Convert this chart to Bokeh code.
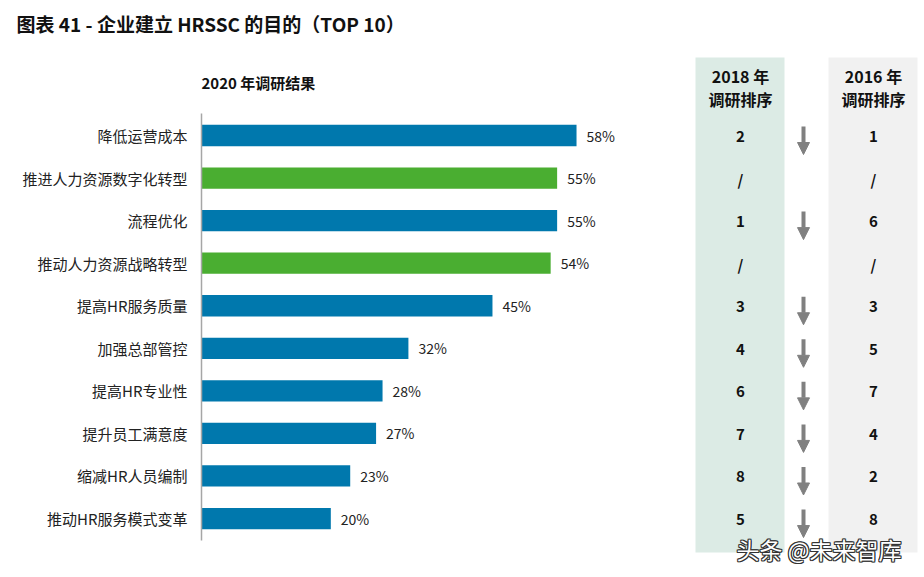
from bokeh.plotting import figure
from bokeh.models import Range1d, ColumnDataSource, Arrow, NormalHead
from bokeh.core.properties import value
from bokeh.embed import file_html
from bokeh.resources import INLINE

# data
categories = ["降低运营成本", "推进人力资源数字化转型", "流程优化", "推动人力资源战略转型",
              "提高HR服务质量", "加强总部管控", "提高HR专业性", "提升员工满意度",
              "缩减HR人员编制", "推动HR服务模式变革"]
pct_2020 = [58, 55, 55, 54, 45, 32, 28, 27, 23, 20]
is_new = [False, True, False, True, False, False, False, False, False, False]
rank_2018 = ["2", "/", "1", "/", "3", "4", "6", "7", "8", "5"]
rank_2016 = ["1", "/", "6", "/", "3", "5", "7", "4", "2", "8"]

FONT = value("Noto Sans CJK SC")
BLUE = "#0078ad"
GREEN = "#4aae31"

W, H = 920, 570
PX = 6.466      # pixels per percent
X0 = 201        # px of the bar baseline
ROW0 = 135      # px of first row centre
DY = 42.56      # pixels per row


def dx(px):
    return (px - X0) / PX


def dy(py):
    return (py - ROW0) / DY


p = figure(width=W, height=H, output_backend="svg", toolbar_location=None,
           x_range=Range1d(dx(0), dx(W)), y_range=Range1d(dy(H), dy(0)),
           x_axis_location=None, y_axis_location=None, min_border=0,
           outline_line_color=None)
p.grid.visible = False

rows = list(range(len(categories)))
src = ColumnDataSource(dict(
    y=rows, cat=categories, pct=pct_2020,
    lab=[f"{v}%" for v in pct_2020],
    color=[GREEN if n else BLUE for n in is_new],
    r18=rank_2018, r16=rank_2016,
))

# rank column backgrounds
p.quad(left=[dx(695), dx(828)], right=[dx(784), dx(917)],
       top=[dy(57), dy(57)], bottom=[dy(552), dy(552)],
       fill_color=["#dcebe5", "#f1f1f1"], line_color=None)

# bars
p.hbar(y="y", left=0, right="pct", height=0.5, fill_color="color",
       line_color=None, source=src)
p.segment(x0=[0], x1=[0], y0=[dy(113)], y1=[dy(540)], line_color="#a6a6a6",
          line_width=1.5)

p.text(x="pct", y="y", text="lab", x_offset=10, text_baseline="middle",
       text_font=FONT, text_font_size="14px", text_color="#222222", source=src)
p.text(x=dx(187), y="y", text="cat", text_align="right", text_baseline="middle",
       text_font=FONT, text_font_size="15px", text_color="#222222", source=src)

# titles
p.text(x=[dx(16)], y=[dy(23)], text=["图表 41 - 企业建立 HRSSC 的目的（TOP 10）"],
       text_baseline="middle", text_font=FONT, text_font_size="19px",
       text_font_style="bold", text_color="#111111")
p.text(x=[dx(201)], y=[dy(82)], text=["2020 年调研结果"], text_baseline="middle",
       text_font=FONT, text_font_size="15px", text_font_style="bold",
       text_color="#111111")
for cx, yr in [(740, "2018 年"), (873, "2016 年")]:
    p.text(x=[dx(cx)] * 2, y=[dy(75), dy(98)], text=[yr, "调研排序"],
           text_align="center", text_baseline="middle", text_font=FONT,
           text_font_size="16px", text_font_style="bold", text_color="#111111")

# ranks
p.text(x=dx(740), y="y", text="r18", y_offset=1, text_align="center",
       text_baseline="middle", text_font=FONT, text_font_size="15px",
       text_font_style="bold", text_color="#111111", source=src)
p.text(x=dx(873), y="y", text="r16", y_offset=1, text_align="center",
       text_baseline="middle", text_font=FONT, text_font_size="15px",
       text_font_style="bold", text_color="#111111", source=src)

# arrows
arrow_rows = [i for i in rows if rank_2018[i] != "/"]
asrc = ColumnDataSource(dict(
    x=[dx(803)] * len(arrow_rows),
    y0=[i - 9 / DY for i in arrow_rows],
    y1=[i + 19 / DY for i in arrow_rows],
))
p.add_layout(Arrow(x_start="x", y_start="y0", x_end="x", y_end="y1", source=asrc,
                   line_color="#808080", line_width=4,
                   end=NormalHead(size=12, fill_color="#808080",
                                  line_color="#808080", line_width=1)))

# watermark
wm = "头条 @未来智库"
for ox, oy in [(-1, 0), (1, 0), (0, -1), (0, 1), (1, 1), (-1, -1), (1, -1), (-1, 1)]:
    p.text(x=[dx(736)], y=[dy(548)], text=[wm], x_offset=ox, y_offset=oy,
           text_baseline="middle", text_font=FONT, text_font_size="23px",
           text_color="#333333")
p.text(x=[dx(736)], y=[dy(548)], text=[wm], text_baseline="middle",
       text_font=FONT, text_font_size="23px", text_color="#ffffff")

open("out.html", "w").write(file_html(p, INLINE))
